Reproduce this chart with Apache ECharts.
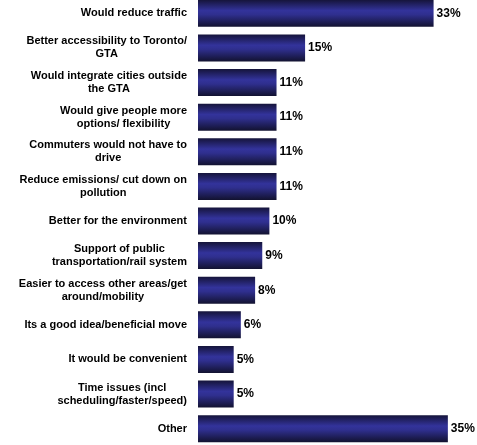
<!DOCTYPE html>
<html>
<head>
<meta charset="utf-8">
<script src="https://cdn.jsdelivr.net/npm/echarts@6/dist/echarts.min.js"></script>
<style>
  html, body { margin: 0; padding: 0; background: #fff; overflow: hidden; }
  #chart { width: 477px; height: 450px; margin-top: -4px; }
</style>
</head>
<body>
<div id="chart"></div>
<script>
// Reasons given, top to bottom
const categories = [
  'Would reduce traffic',
  'Better accessibility to Toronto/\nGTA',
  'Would integrate cities outside\nthe GTA',
  'Would give people more\noptions/ flexibility',
  'Commuters would not have to\ndrive',
  'Reduce emissions/ cut down on\npollution',
  'Better for the environment',
  'Support of public\ntransportation/rail system',
  'Easier to access other areas/get\naround/mobility',
  'Its a good idea/beneficial move',
  'It would be convenient',
  'Time issues (incl\nscheduling/faster/speed)',
  'Other'
];
// Share of respondents (%)
const values = [33, 15, 11, 11, 11, 11, 10, 9, 8, 6, 5, 5, 35];

const chart = echarts.init(document.getElementById('chart'));

// Each line is its own centred token so multi-line labels centre within their block
function centredLines(text) {
  return text.split('\n').map(l => '{c|' + l + '}').join('\n');
}

const barGradient = new echarts.graphic.LinearGradient(0, 0, 0, 1, [
  { offset: 0, color: '#15143a' },
  { offset: 0.4, color: '#33339b' },
  { offset: 0.55, color: '#2f2f8e' },
  { offset: 1, color: '#121230' }
]);

chart.setOption({
  animation: false,
  backgroundColor: '#ffffff',
  grid: { left: 198, width: 257, top: 0, bottom: 0, containLabel: false },
  xAxis: {
    type: 'value',
    min: 0,
    max: 36,
    show: false
  },
  yAxis: {
    type: 'category',
    data: categories,
    inverse: true,
    axisLine: { show: false },
    axisTick: { show: false },
    splitLine: { show: false },
    axisLabel: {
      margin: 11,
      align: 'right',
      color: '#000',
      fontFamily: 'Liberation Sans, Arial, sans-serif',
      fontWeight: 'bold',
      fontSize: 11,
      lineHeight: 13,
      formatter: centredLines,
      rich: {
        c: {
          align: 'center',
          color: '#000',
          fontFamily: 'Liberation Sans, Arial, sans-serif',
          fontWeight: 'bold',
          fontSize: 11,
          lineHeight: 13
        }
      }
    }
  },
  series: [{
    type: 'bar',
    data: values,
    barWidth: 27,
    itemStyle: { color: barGradient },
    label: {
      show: true,
      position: 'right',
      distance: 3,
      formatter: '{c}%',
      color: '#000',
      fontFamily: 'Liberation Sans, Arial, sans-serif',
      fontWeight: 'bold',
      fontSize: 12
    }
  }]
});
</script>
</body>
</html>
